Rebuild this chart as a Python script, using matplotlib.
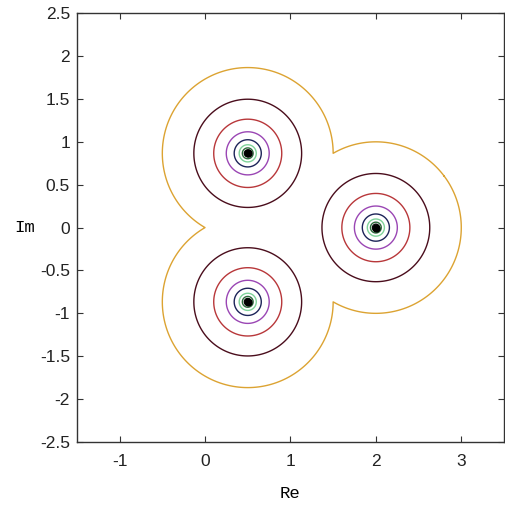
import numpy as np
import matplotlib
matplotlib.use("Agg")
import matplotlib.pyplot as plt

# Roots of (z - 1)^3 - 1
root_re = [2.0, 0.5, 0.5]
root_im = [0.0, 0.866, -0.866]

# Contour levels of the distance to the nearest root (log-spaced) and their colours
level_exp = [-1.4, -1.2, -1.0, -0.8, -0.6, -0.4, -0.2, 0.0]
level_colors = ["#101010", "#2e6b3c", "#7fd39a", "#1c2458", "#9a46b4",
                "#b8373a", "#4a0d1c", "#dca332"]

x_ticks = [-1, 0, 1, 2, 3]
y_ticks = [-2.5, -2, -1.5, -1, -0.5, 0, 0.5, 1, 1.5, 2, 2.5]

fig = plt.figure(figsize=(5.06, 5.08), dpi=100)
ax = fig.add_axes([0.152, 0.130, 0.844, 0.844])

xs = np.linspace(-1.5, 3.5, 1201)
ys = np.linspace(-2.5, 2.5, 1201)
X, Y = np.meshgrid(xs, ys)
D = np.full(X.shape, np.inf)
for rx, ry in zip(root_re, root_im):
    D = np.minimum(D, np.hypot(X - rx, Y - ry))
L = np.log10(D)

ax.contour(X, Y, L, levels=level_exp, colors=level_colors, linewidths=1.0)
ax.plot(root_re, root_im, linestyle="none", marker="o", markersize=5,
        color="black")

ax.set_xlim(-1.5, 3.5)
ax.set_ylim(-2.5, 2.5)
ax.set_xticks(x_ticks)
ax.set_yticks(y_ticks)
ax.set_xticklabels([f"{v:g}" for v in x_ticks], family="Liberation Sans",
                   fontsize=12.5)
ax.set_yticklabels([f"{v:g}" for v in y_ticks], family="Liberation Sans",
                   fontsize=12.5)
ax.tick_params(axis="x", pad=9)
ax.tick_params(axis="y", pad=5)
ax.tick_params(direction="in", length=4, width=0.8, top=True, right=True,
               colors="#333333", labelcolor="#222222")
for s in ax.spines.values():
    s.set_color("#333333")
    s.set_linewidth(1.0)

ax.set_xlabel("Re", family="Liberation Mono", fontsize=12.5, labelpad=12)
ax.set_ylabel("Im", family="Liberation Mono", fontsize=12.5, rotation=0,
              labelpad=11, va="center")

fig.savefig("out.png", dpi=100)
